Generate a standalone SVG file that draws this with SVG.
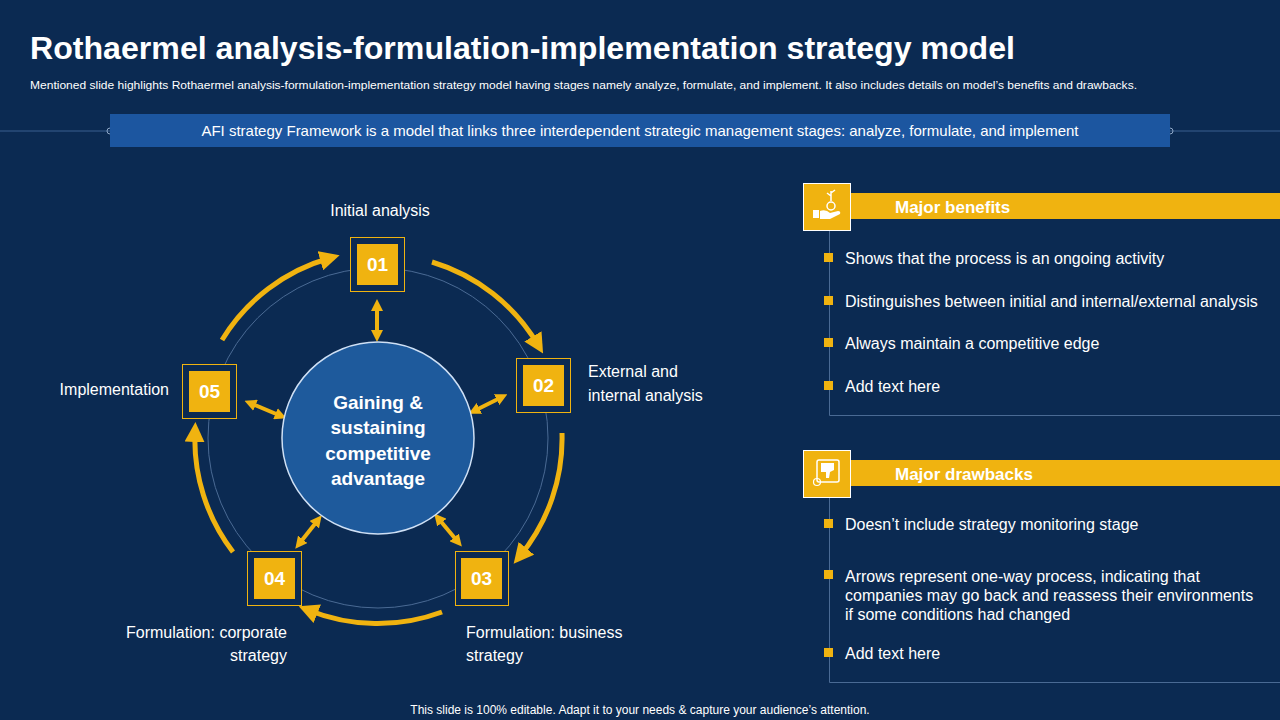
<svg xmlns="http://www.w3.org/2000/svg" width="1280" height="720" viewBox="0 0 1280 720">
<style>
text{font-family:"Liberation Sans",Arial,sans-serif;fill:#fff}
.t{font-size:16px}
.num{font-size:19px;font-weight:bold;text-anchor:middle}
.arc{fill:none;stroke:#f0b310;stroke-width:5}
.dbl{stroke:#f0b310;stroke-width:4}
.b{fill:#f0b310}
.hd{font-size:17px;font-weight:bold}
</style>
<defs>
<marker id="ah" viewBox="0 0 10 10" refX="5" refY="5" markerWidth="4" markerHeight="4" orient="auto"><path d="M0,0L10,5L0,10z" fill="#f0b310"/></marker>
<marker id="ah2" viewBox="0 0 10 10" refX="5" refY="5" markerWidth="3" markerHeight="3" orient="auto-start-reverse"><path d="M0,0L10,5L0,10z" fill="#f0b310"/></marker>
</defs>
<rect width="1280" height="720" fill="#0b2a52"/>
<text x="30" y="59" font-size="31" font-weight="bold" textLength="985" lengthAdjust="spacingAndGlyphs">Rothaermel analysis-formulation-implementation  strategy model</text>
<text x="30" y="89" font-size="11" textLength="1107" lengthAdjust="spacingAndGlyphs">Mentioned slide highlights Rothaermel analysis-formulation-implementation strategy model having stages namely analyze, formulate, and implement. It also includes details on model’s benefits and drawbacks.</text>
<line x1="0" y1="131" x2="1280" y2="131" stroke="#3a5f8f" stroke-width="1"/>
<circle cx="110" cy="131" r="3" fill="none" stroke="#8fa8c8"/>
<circle cx="1170" cy="131" r="3" fill="none" stroke="#8fa8c8"/>
<rect x="110" y="114" width="1060" height="33" fill="#1c56a0"/>
<text x="640" y="136" font-size="15" text-anchor="middle">AFI strategy Framework is a model that links three interdependent strategic management stages: analyze, formulate, and implement</text>

<circle cx="378" cy="438" r="170" fill="none" stroke="#4a6a94" stroke-width="1"/>
<g id="connectors">
<path class="arc" d="M432,262 A185,185 0 0 1 538,345" marker-end="url(#ah)"/>
<path class="arc" d="M562,433 A185,185 0 0 1 520,556" marker-end="url(#ah)"/>
<path class="arc" d="M442,612 A185,185 0 0 1 308,610" marker-end="url(#ah)"/>
<path class="arc" d="M233,552 A185,185 0 0 1 195,432" marker-end="url(#ah)"/>
<path class="arc" d="M222,340 A185,185 0 0 1 330,258" marker-end="url(#ah)"/>
<line class="dbl" x1="377" y1="305" x2="377" y2="336" marker-start="url(#ah2)" marker-end="url(#ah2)"/>
<line class="dbl" x1="474" y1="411" x2="502" y2="397" marker-start="url(#ah2)" marker-end="url(#ah2)"/>
<line class="dbl" x1="438" y1="518" x2="458" y2="542" marker-start="url(#ah2)" marker-end="url(#ah2)"/>
<line class="dbl" x1="318" y1="520" x2="299" y2="544" marker-start="url(#ah2)" marker-end="url(#ah2)"/>
<line class="dbl" x1="250" y1="403" x2="281" y2="416" marker-start="url(#ah2)" marker-end="url(#ah2)"/>
</g>
<g id="center">
<circle cx="378" cy="438" r="96" fill="#1e5a9c" stroke="#cfe0f5" stroke-width="1.5"/>
<text x="378" y="409" font-size="19" font-weight="bold" text-anchor="middle">Gaining &amp;</text>
<text x="378" y="434" font-size="19" font-weight="bold" text-anchor="middle">sustaining</text>
<text x="378" y="460" font-size="19" font-weight="bold" text-anchor="middle">competitive</text>
<text x="378" y="485" font-size="19" font-weight="bold" text-anchor="middle">advantage</text>
</g>
<g id="n01"><rect x="350.5" y="237.5" width="54" height="54" fill="#0b2a52" stroke="#f0b310"/><rect x="357" y="244" width="41" height="41" class="b"/><text class="num" x="377.5" y="271">01</text>
<text x="380" y="216" class="t" text-anchor="middle">Initial analysis</text></g>
<g id="n02"><rect x="516.5" y="358.5" width="54" height="54" fill="#0b2a52" stroke="#f0b310"/><rect x="523" y="365" width="41" height="41" class="b"/><text class="num" x="543.5" y="392">02</text>
<text x="588" y="377" class="t">External and</text><text x="588" y="401" class="t">internal analysis</text></g>
<g id="n03"><rect x="455.5" y="551.5" width="53" height="54" fill="#0b2a52" stroke="#f0b310"/><rect x="461" y="558" width="41" height="41" class="b"/><text class="num" x="481.5" y="585">03</text>
<text x="466" y="638" class="t">Formulation: business</text><text x="466" y="661" class="t">strategy</text></g>
<g id="n04"><rect x="247.5" y="551.5" width="54" height="54" fill="#0b2a52" stroke="#f0b310"/><rect x="254" y="558" width="41" height="41" class="b"/><text class="num" x="274.5" y="585">04</text>
<text x="287" y="638" class="t" text-anchor="end">Formulation: corporate</text><text x="287" y="661" class="t" text-anchor="end">strategy</text></g>
<g id="n05"><rect x="182.5" y="364.5" width="54" height="54" fill="#0b2a52" stroke="#f0b310"/><rect x="189" y="371" width="41" height="41" class="b"/><text class="num" x="209.5" y="398">05</text>
<text x="169" y="395" class="t" text-anchor="end">Implementation</text></g>

<g id="benefits">
<path d="M829.5,230 V415.5 H1280" fill="none" stroke="#4a6a94"/>
<rect x="850" y="193" width="430" height="26" class="b"/>
<rect x="803.5" y="183.5" width="47" height="47" class="b" stroke="#fff"/>
<path d="M813,210 h6 v8 h-6z M820,211 q6,-2 10,2 l8,-2 q3,0 2,3 l-10,5 h-10z" fill="#fff"/>
<circle cx="831" cy="206" r="4" fill="none" stroke="#fff" stroke-width="1.5"/>
<path d="M831,201 v-10 M831,196 l-4,-3 M831,193 l4,-3" stroke="#fff" stroke-width="1.5" fill="none"/>
<text x="895" y="213" class="hd">Major benefits</text>
<rect x="824" y="253" width="9" height="9" class="b"/><text x="845" y="264" class="t">Shows that the process is an ongoing activity</text>
<rect x="824" y="296" width="9" height="9" class="b"/><text x="845" y="307" class="t">Distinguishes between initial and internal/external  analysis</text>
<rect x="824" y="338" width="9" height="9" class="b"/><text x="845" y="349" class="t">Always maintain a competitive edge</text>
<rect x="824" y="381" width="9" height="9" class="b"/><text x="845" y="392" class="t">Add text here</text>
</g>
<g id="drawbacks">
<path d="M829.5,497 V682.5 H1280" fill="none" stroke="#4a6a94"/>
<rect x="850" y="460" width="430" height="26" class="b"/>
<rect x="803.5" y="450.5" width="47" height="47" class="b" stroke="#fff"/>
<rect x="817" y="460" width="22" height="22" rx="2" fill="none" stroke="#fff" stroke-width="1.5"/>
<path d="M821,463 h13 v7 l-4,2 l-1,6 h-3 v-6 h-5z" fill="#fff"/>
<circle cx="817" cy="482" r="3.5" fill="none" stroke="#fff" stroke-width="1.2"/>
<text x="895" y="480" class="hd">Major drawbacks</text>
<rect x="824" y="519" width="9" height="9" class="b"/><text x="845" y="530" class="t">Doesn’t include strategy monitoring stage</text>
<rect x="824" y="570" width="9" height="9" class="b"/><text x="845" y="582" class="t">Arrows represent one-way process, indicating that</text>
<text x="845" y="601" class="t">companies may go back and reassess their environments</text>
<text x="845" y="620" class="t">if some conditions had changed</text>
<rect x="824" y="648" width="9" height="9" class="b"/><text x="845" y="659" class="t">Add text here</text>
</g>
<text x="640" y="714" font-size="12" text-anchor="middle">This slide is 100% editable. Adapt it to your needs &amp; capture your audience’s attention.</text>
</svg>
